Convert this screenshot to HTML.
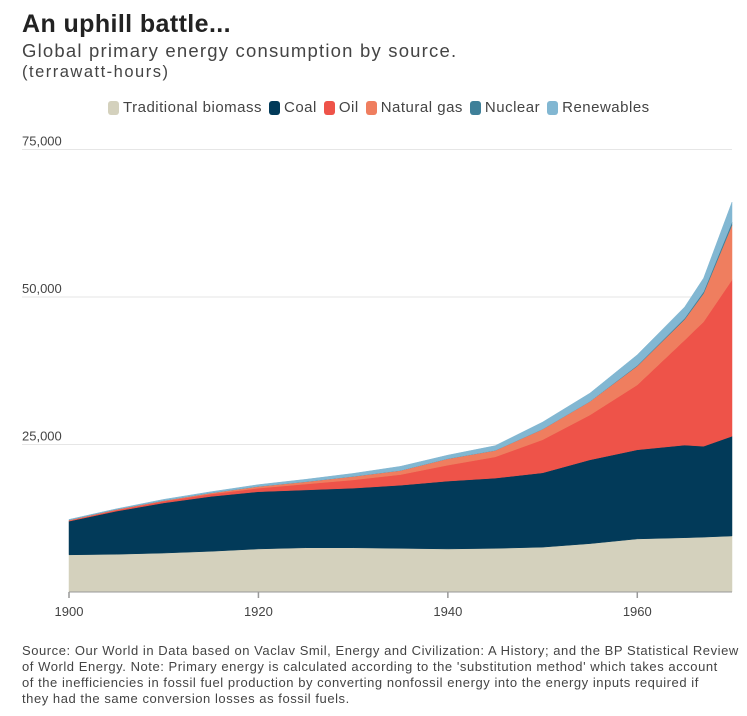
<!DOCTYPE html>
<html><head><meta charset="utf-8"><style>
body{margin:0;background:#fff;font-family:"Liberation Sans",sans-serif;color:#333;width:747px;height:716px;overflow:hidden;position:relative}
.t{position:absolute;left:22px;top:10px;font-size:25px;font-weight:bold;color:#222;letter-spacing:0.4px}
.s{position:absolute;left:22px;top:40px;font-size:18.5px;color:#444;letter-spacing:1.2px}
.u{position:absolute;left:22px;top:63px;font-size:16.5px;color:#444;letter-spacing:1.5px}
.lg{position:absolute;left:108px;top:99px;font-size:15px;color:#444;display:flex;gap:7px;align-items:center;letter-spacing:0.5px}
.lg span{display:inline-flex;align-items:center}
.lg i{display:inline-block;width:11px;height:14px;border-radius:3px;margin-right:4px}
.f{position:absolute;left:22px;top:643px;font-size:13px;line-height:16px;color:#444;white-space:nowrap;letter-spacing:0.55px}
</style></head><body>
<div class="t">An uphill battle...</div>
<div class="s">Global primary energy consumption by source.</div>
<div class="u">(terrawatt-hours)</div>
<div class="lg">
<span><i style="background:#d4d1bd"></i>Traditional biomass</span>
<span><i style="background:#023a59"></i>Coal</span>
<span><i style="background:#ee5349"></i>Oil</span>
<span><i style="background:#ef7e5f"></i>Natural gas</span>
<span><i style="background:#3f8099"></i>Nuclear</span>
<span><i style="background:#82b7d2"></i>Renewables</span>
</div>
<svg id="c" width="747" height="640" style="position:absolute;left:0;top:0"></svg>
<div class="f">Source: Our World in Data based on Vaclav Smil, Energy and Civilization: A History; and the BP Statistical Review<br>of World Energy. Note: Primary energy is calculated according to the 'substitution method' which takes account<br>of the inefficiencies in fossil fuel production by converting nonfossil energy into the energy inputs required if<br>they had the same conversion losses as fossil fuels.</div>
<script>
const years=[1900,1905,1910,1915,1920,1925,1930,1935,1940,1945,1950,1955,1960,1965,1967,1970];
const biomass=[6.3,6.4,6.6,6.9,7.3,7.5,7.5,7.4,7.3,7.4,7.6,8.2,9.0,9.2,9.3,9.5];
const coal=[5.7,7.3,8.5,9.3,9.7,9.8,10.1,10.7,11.5,11.9,12.6,14.2,15.1,15.7,15.4,16.9];
const oil=[0.1,0.2,0.3,0.4,0.6,1.0,1.4,1.8,2.7,3.6,5.6,7.6,11.0,17.8,21.1,26.5];
const gas=[0.1,0.1,0.1,0.2,0.3,0.4,0.6,0.7,1.1,1.1,1.8,2.3,3.2,3.5,4.8,9.3];
const nuclear=[0,0,0,0,0,0,0,0,0,0,0,0,0.1,0.2,0.3,0.5];
const renewables=[0.1,0.1,0.2,0.2,0.3,0.4,0.5,0.7,0.6,0.8,1.2,1.4,1.8,1.9,2.3,3.4];
const yTicks=[25000,50000,75000];
const yTickLabels=["25,000","50,000","75,000"];
const xTicks=[1900,1920,1940,1960];
const NS="http://www.w3.org/2000/svg",svg=document.getElementById('c');
const x=y=>69+(y-1900)*(732-69)/70;
const yv=v=>592-v*0.0059;
function mk(t,a){const e=document.createElementNS(NS,t);for(const k in a)e.setAttribute(k,a[k]);svg.appendChild(e);return e;}
yTicks.forEach((v,i)=>{
 const l=mk('line',{x1:22,x2:732,y1:yv(v),y2:yv(v),stroke:'#e6e6e6','stroke-width':1});
 
 
 const t=mk('text',{x:22,y:yv(v)-4,'font-size':13,fill:'#444','font-family':'Liberation Sans, sans-serif'});
 t.textContent=yTickLabels[i];
 
 
});
const series=[[biomass,'#d4d1bd','area-biomass'],[coal,'#023a59','area-coal'],[oil,'#ee5349','area-oil'],[gas,'#ef7e5f','area-gas'],[nuclear,'#3f8099','area-nuclear'],[renewables,'#82b7d2','area-renewables']];
let base=years.map(()=>0);
series.forEach(([s,col,name])=>{
 const top=base.map((b,i)=>b+s[i]*1000);
 let d='M'+years.map((y,i)=>x(y)+','+yv(top[i])).join('L');
 for(let i=years.length-1;i>=0;i--)d+='L'+x(years[i])+','+yv(base[i]);
 const p=mk('path',{d:d+'Z',fill:col,stroke:col,'stroke-width':0.5});
 
 
 base=top;
});
const ax=mk('line',{x1:69,x2:732,y1:592,y2:592,stroke:'#999','stroke-width':1});


xTicks.forEach(v=>{
 const l=mk('line',{x1:x(v),x2:x(v),y1:592,y2:598,stroke:'#999','stroke-width':1.5});
 
 
 const t=mk('text',{x:x(v),y:616,'font-size':13,fill:'#444','text-anchor':'middle','font-family':'Liberation Sans, sans-serif'});
 t.textContent=v;
 
 
});
</script>
</body></html>
